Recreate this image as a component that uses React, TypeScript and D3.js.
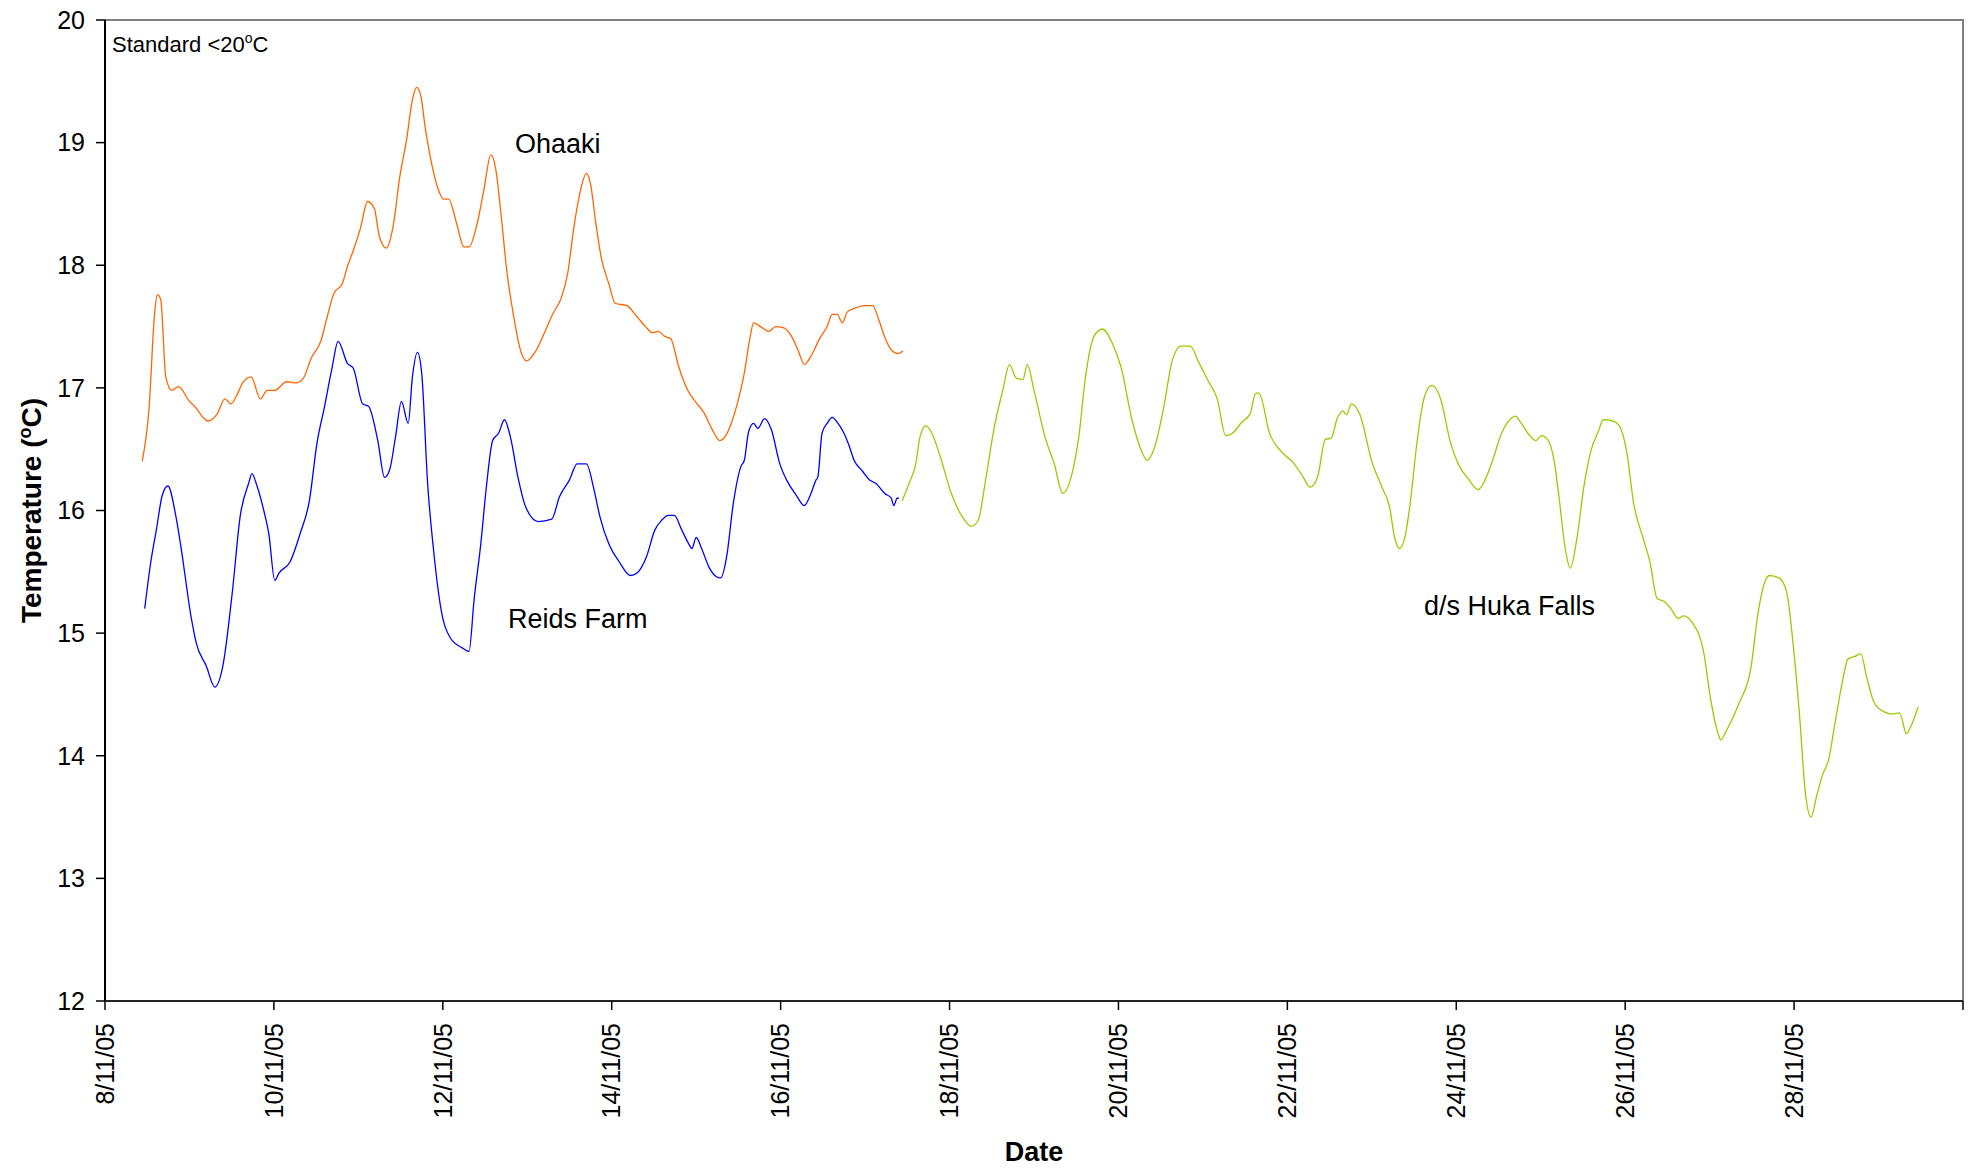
import React from "react";
import * as d3 from "d3";

// ---- data (day of November 2005, temperature °C) ----
const ohaakiDays = [8.44,8.52,8.59,8.62,8.66,8.72,8.79,8.87,9.0,9.06,9.22,9.33,9.42,9.49,9.56,9.63,9.73,9.84,9.92,10.01,10.15,10.26,10.35,10.44,10.56,10.62,10.71,10.81,10.87,10.94,11.02,11.11,11.19,11.25,11.33,11.41,11.49,11.57,11.64,11.69,11.74,11.79,11.87,11.94,12.01,12.07,12.16,12.25,12.31,12.4,12.48,12.57,12.63,12.69,12.76,12.84,12.91,12.99,13.1,13.21,13.3,13.4,13.48,13.55,13.63,13.7,13.75,13.81,13.88,13.97,14.04,14.18,14.3,14.4,14.48,14.55,14.63,14.7,14.79,14.9,15.0,15.09,15.19,15.28,15.34,15.42,15.49,15.57,15.64,15.68,15.76,15.86,15.94,16.04,16.13,16.21,16.28,16.36,16.46,16.55,16.61,16.67,16.73,16.79,16.88,17.0,17.09,17.16,17.24,17.31,17.39,17.45];
const ohaakiTemps = [16.4,16.82,17.63,17.76,17.72,17.09,16.98,17.01,16.89,16.85,16.73,16.79,16.91,16.87,16.94,17.04,17.09,16.91,16.98,16.98,17.05,17.04,17.08,17.24,17.39,17.55,17.77,17.85,17.99,18.12,18.29,18.52,18.46,18.23,18.14,18.31,18.72,19.02,19.35,19.45,19.38,19.13,18.82,18.63,18.54,18.54,18.35,18.15,18.15,18.32,18.59,18.9,18.77,18.41,17.94,17.58,17.33,17.22,17.3,17.46,17.6,17.73,17.94,18.3,18.61,18.75,18.66,18.35,18.05,17.84,17.69,17.67,17.58,17.5,17.45,17.46,17.42,17.4,17.18,16.98,16.88,16.8,16.66,16.57,16.6,16.72,16.88,17.12,17.42,17.53,17.5,17.46,17.5,17.49,17.42,17.3,17.19,17.26,17.4,17.5,17.6,17.6,17.53,17.62,17.65,17.67,17.67,17.56,17.4,17.31,17.28,17.3];

const reidsDays = [8.47,8.54,8.61,8.68,8.745,8.84,8.9,9.02,9.08,9.2,9.3,9.4,9.51,9.6,9.7,9.74,9.8,9.88,9.94,10.01,10.06,10.19,10.31,10.42,10.51,10.6,10.69,10.76,10.87,10.94,11.05,11.12,11.23,11.31,11.37,11.44,11.51,11.59,11.64,11.7,11.75,11.82,11.89,11.98,12.09,12.23,12.31,12.37,12.45,12.52,12.59,12.66,12.73,12.8,12.89,12.98,13.13,13.29,13.38,13.5,13.59,13.7,13.79,13.86,13.97,14.09,14.22,14.3,14.41,14.51,14.59,14.67,14.74,14.83,14.91,14.95,15.0,15.07,15.15,15.24,15.29,15.36,15.44,15.53,15.57,15.62,15.68,15.73,15.81,15.89,15.99,16.07,16.18,16.28,16.36,16.42,16.44,16.49,16.55,16.61,16.68,16.75,16.81,16.87,16.97,17.05,17.13,17.23,17.31,17.34,17.38,17.4];
const reidsTemps = [15.2,15.57,15.85,16.13,16.2,15.95,15.7,15.13,14.92,14.73,14.56,14.75,15.35,15.95,16.22,16.3,16.2,16.0,15.81,15.43,15.49,15.58,15.81,16.08,16.55,16.85,17.17,17.38,17.2,17.16,16.87,16.85,16.57,16.27,16.33,16.6,16.89,16.71,17.09,17.29,17.12,16.22,15.68,15.19,14.96,14.88,14.85,15.27,15.73,16.22,16.57,16.63,16.74,16.6,16.27,16.03,15.91,15.93,16.11,16.25,16.38,16.38,16.17,15.95,15.72,15.58,15.47,15.49,15.62,15.84,15.92,15.96,15.96,15.84,15.73,15.69,15.78,15.68,15.54,15.46,15.45,15.62,16.06,16.36,16.41,16.64,16.71,16.67,16.75,16.66,16.38,16.25,16.13,16.04,16.14,16.25,16.27,16.63,16.71,16.76,16.71,16.63,16.53,16.41,16.32,16.25,16.22,16.14,16.1,16.04,16.1,16.1];

const hukaDays = [17.44,17.52,17.6,17.65,17.72,17.79,17.89,18.02,18.16,18.26,18.34,18.42,18.53,18.63,18.71,18.79,18.87,18.92,19.0,19.13,19.24,19.34,19.45,19.53,19.61,19.71,19.81,19.93,20.03,20.16,20.27,20.34,20.43,20.53,20.64,20.74,20.85,20.95,21.06,21.17,21.27,21.35,21.46,21.56,21.62,21.66,21.7,21.78,21.93,22.07,22.18,22.27,22.36,22.45,22.52,22.59,22.66,22.7,22.76,22.86,23.0,23.12,23.21,23.27,23.33,23.4,23.46,23.53,23.62,23.71,23.81,23.93,24.03,24.14,24.26,24.36,24.44,24.53,24.61,24.7,24.76,24.86,24.94,25.01,25.08,25.16,25.22,25.29,25.35,25.43,25.51,25.6,25.68,25.74,25.85,25.93,26.02,26.1,26.21,26.29,26.38,26.46,26.54,26.63,26.69,26.79,26.93,27.01,27.1,27.13,27.21,27.35,27.49,27.57,27.66,27.71,27.82,27.91,27.99,28.07,28.13,28.2,28.27,28.34,28.41,28.48,28.56,28.64,28.72,28.79,28.86,28.95,29.06,29.17,29.25,29.33,29.39,29.44,29.47];
const hukaTemps = [16.08,16.22,16.38,16.6,16.69,16.63,16.44,16.14,15.94,15.87,15.92,16.22,16.68,16.98,17.19,17.08,17.07,17.19,16.98,16.6,16.38,16.14,16.3,16.6,17.09,17.42,17.48,17.36,17.17,16.74,16.49,16.41,16.52,16.82,17.23,17.34,17.34,17.21,17.06,16.91,16.61,16.63,16.72,16.79,16.95,16.96,16.9,16.65,16.48,16.39,16.28,16.19,16.28,16.58,16.59,16.75,16.81,16.78,16.87,16.78,16.4,16.19,16.03,15.78,15.69,15.81,16.09,16.53,16.92,17.02,16.92,16.56,16.37,16.26,16.17,16.28,16.43,16.62,16.72,16.77,16.72,16.62,16.57,16.61,16.58,16.4,16.09,15.69,15.53,15.78,16.19,16.5,16.64,16.74,16.73,16.69,16.47,16.06,15.78,15.59,15.28,15.26,15.2,15.12,15.14,15.09,14.84,14.47,14.18,14.13,14.22,14.43,14.72,15.15,15.43,15.47,15.45,15.34,14.9,14.28,13.72,13.5,13.68,13.85,13.97,14.25,14.56,14.79,14.81,14.83,14.64,14.43,14.36,14.34,14.35,14.18,14.25,14.34,14.4];

const xTickDays = [8, 10, 12, 14, 16, 18, 20, 22, 24, 26, 28, 30];
const xTickLabels = ["8/11/05", "10/11/05", "12/11/05", "14/11/05", "16/11/05", "18/11/05", "20/11/05", "22/11/05", "24/11/05", "26/11/05", "28/11/05", ""];
const yTicks = [12, 13, 14, 15, 16, 17, 18, 19, 20];

const W = 1979;
const H = 1170;
const M = { left: 105, right: 1963, top: 20, bottom: 1001 };
const FONT = "'Liberation Sans', Arial, Helvetica, sans-serif";

export default function App() {
  const x = d3.scaleLinear().domain([8, 30]).range([M.left, M.right]);
  const y = d3.scaleLinear().domain([12, 20]).range([M.bottom, M.top]);
  const line = d3
    .line<[number, number]>()
    .x((d) => x(d[0]))
    .y((d) => y(d[1]))
    .curve(d3.curveMonotoneX);

  const series = [
    { days: ohaakiDays, temps: ohaakiTemps, color: "#FF6600" },
    { days: reidsDays, temps: reidsTemps, color: "#0000FF" },
    { days: hukaDays, temps: hukaTemps, color: "#99CC00" },
  ];

  return (
    <svg
      width={W}
      height={H}
      style={{ position: "absolute", left: 0, top: 0, background: "#fff" }}
      fontFamily={FONT}
    >
      <rect x={0} y={0} width={W} height={H} fill="#fff" />
      {/* plot area border */}
      <rect
        x={M.left}
        y={M.top}
        width={M.right - M.left}
        height={M.bottom - M.top}
        fill="none"
        stroke="#808080"
        strokeWidth={2}
      />
      {/* series */}
      {series.map((s, i) => (
        <path
          key={i}
          d={line(d3.zip(s.days, s.temps) as [number, number][]) || ""}
          fill="none"
          stroke={s.color}
          strokeWidth={1.3}
          strokeLinejoin="round"
        />
      ))}
      {/* axes */}
      <line x1={M.left} x2={M.left} y1={M.top} y2={M.bottom} stroke="#000" strokeWidth={2} />
      <line x1={M.left} x2={M.right} y1={M.bottom} y2={M.bottom} stroke="#222" strokeWidth={2} />
      {yTicks.map((t) => (
        <g key={t}>
          <line x1={M.left - 9} x2={M.left} y1={y(t)} y2={y(t)} stroke="#000" strokeWidth={1.5} />
          <text x={M.left - 20} y={y(t)} dy="0.35em" textAnchor="end" fontSize={25} fill="#000">
            {t}
          </text>
        </g>
      ))}
      {xTickDays.map((d, i) => (
        <g key={d}>
          <line x1={x(d)} x2={x(d)} y1={M.bottom} y2={M.bottom + 9} stroke="#000" strokeWidth={1.5} />
          {xTickLabels[i] && (
            <text
              transform={`translate(${x(d)},${M.bottom + 22}) rotate(-90)`}
              dy="0.35em"
              textAnchor="end"
              fontSize={25}
              fill="#000"
            >
              {xTickLabels[i]}
            </text>
          )}
        </g>
      ))}
      {/* axis titles */}
      <text
        transform={`translate(${31},${(M.top + M.bottom) / 2}) rotate(-90)`}
        dy="0.35em"
        textAnchor="middle"
        fontSize={28}
        fontWeight="bold"
        fill="#000"
      >
        Temperature (<tspan fontSize={18} dy={-10}>o</tspan>
        <tspan dy={10}>C)</tspan>
      </text>
      <text x={(M.left + M.right) / 2} y={1161} textAnchor="middle" fontSize={27} fontWeight="bold" fill="#000">
        Date
      </text>
      {/* annotations */}
      <text x={112} y={52} fontSize={22} fill="#000">
        Standard &lt;20<tspan fontSize={14} dy={-9}>o</tspan>
        <tspan dy={9}>C</tspan>
      </text>
      <text x={515} y={153} fontSize={27} fill="#000">Ohaaki</text>
      <text x={508} y={628} fontSize={27} fill="#000">Reids Farm</text>
      <text x={1424} y={615} fontSize={27} fill="#000">d/s Huka Falls</text>
    </svg>
  );
}
